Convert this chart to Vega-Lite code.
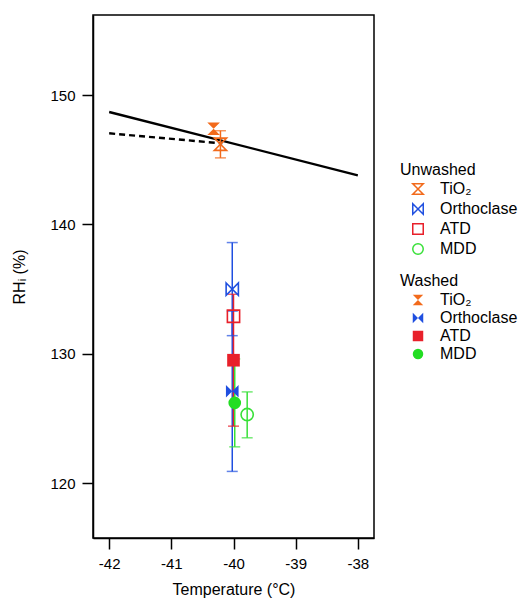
{
  "$schema": "https://vega.github.io/schema/vega-lite/v6.json",
  "width": 281,
  "height": 523,
  "autosize": {"type": "none"},
  "padding": {"left": 93, "top": 15, "right": 144, "bottom": 62},
  "background": "white",
  "config": {
    "font": "Liberation Sans",
    "view": {"stroke": "#000", "strokeWidth": 1.5},
    "axis": {
      "grid": false,
      "domainColor": "#000",
      "domainWidth": 1.5,
      "tickColor": "#000",
      "tickWidth": 1.5,
      "tickSize": 11,
      "labelFont": "Liberation Sans",
      "labelFontSize": 15,
      "labelColor": "#000",
      "labelPadding": 7,
      "titleFont": "Liberation Sans",
      "titleFontSize": 16,
      "titleFontWeight": "normal",
      "titleColor": "#000"
    },
    "legend": {
      "labelFont": "Liberation Sans",
      "labelFontSize": 16,
      "labelColor": "#000",
      "titleFont": "Liberation Sans",
      "titleFontSize": 16,
      "titleFontWeight": "normal",
      "titleColor": "#000",
      "symbolSize": 110,
      "symbolStrokeWidth": 1.5,
      "symbolOffset": 10,
      "labelOffset": 14,
      "rowPadding": 2,
      "titlePadding": 3,
      "padding": 0
    }
  },
  "layer": [
    {
      "data": {"values": [{"t1": -42, "r1": 148.7, "t2": -38, "r2": 143.8}]},
      "mark": {"type": "rule", "color": "#000", "strokeWidth": 2.4},
      "encoding": {
        "x": {"field": "t1", "type": "quantitative", "scale": {"domain": [-42.26, -37.74], "nice": false, "zero": false}, "axis": {"values": [-42, -41, -40, -39, -38], "labelExpr": "datum.value < 0 ? '-' + abs(datum.value) : '' + datum.value", "title": "Temperature (°C)", "titlePadding": 10}},
        "y": {"field": "r1", "type": "quantitative", "scale": {"domain": [115.75, 156.2], "nice": false, "zero": false}, "axis": {"values": [120, 130, 140, 150], "title": "RHᵢ (%)", "titlePadding": 22}},
        "x2": {"field": "t2"},
        "y2": {"field": "r2"}
      }
    },
    {
      "data": {"values": [{"t1": -42, "r1": 147.05, "t2": -40.18, "r2": 146.27}]},
      "mark": {"type": "rule", "color": "#000", "strokeWidth": 2.4, "strokeDash": [6, 4]},
      "encoding": {
        "x": {"field": "t1", "type": "quantitative"},
        "y": {"field": "r1", "type": "quantitative"},
        "x2": {"field": "t2"},
        "y2": {"field": "r2"}
      }
    },
    {
      "data": {"values": [
        {"material": "TiO₂", "temp": -40.21, "lo": 145.15, "hi": 147.25},
        {"material": "Orthoclase", "temp": -40.02, "lo": 131.4, "hi": 138.6},
        {"material": "MDD", "temp": -39.78, "lo": 123.5, "hi": 127.05},
        {"material": "Orthoclase", "temp": -40.02, "lo": 120.9, "hi": 133.3},
        {"material": "ATD", "temp": -40.0, "lo": 124.4, "hi": 134.6},
        {"material": "MDD", "temp": -39.98, "lo": 122.8, "hi": 129.6}
      ]},
      "layer": [
        {
          "mark": {"type": "rule", "strokeWidth": 1.5},
          "encoding": {
            "x": {"field": "temp", "type": "quantitative"},
            "y": {"field": "lo", "type": "quantitative"},
            "y2": {"field": "hi"},
            "color": {"field": "material", "type": "nominal", "legend": null, "scale": {"domain": ["TiO₂", "Orthoclase", "ATD", "MDD"], "range": ["#f26a1b", "#1f4fe0", "#e8202a", "#38e038"]}}
          }
        },
        {
          "mark": {"type": "tick", "orient": "horizontal", "size": 11, "thickness": 1.5},
          "encoding": {
            "x": {"field": "temp", "type": "quantitative"},
            "y": {"field": "lo", "type": "quantitative"},
            "color": {"field": "material", "type": "nominal", "legend": null, "scale": {"domain": ["TiO₂", "Orthoclase", "ATD", "MDD"], "range": ["#f26a1b", "#1f4fe0", "#e8202a", "#38e038"]}}
          }
        },
        {
          "mark": {"type": "tick", "orient": "horizontal", "size": 11, "thickness": 1.5},
          "encoding": {
            "x": {"field": "temp", "type": "quantitative"},
            "y": {"field": "hi", "type": "quantitative"},
            "color": {"field": "material", "type": "nominal", "legend": null, "scale": {"domain": ["TiO₂", "Orthoclase", "ATD", "MDD"], "range": ["#f26a1b", "#1f4fe0", "#e8202a", "#38e038"]}}
          }
        }
      ]
    },
    {
      "data": {"values": [
        {"material": "TiO₂", "temp": -40.21, "rh": 146.2},
        {"material": "Orthoclase", "temp": -40.02, "rh": 135.0},
        {"material": "ATD", "temp": -40.0, "rh": 132.9},
        {"material": "MDD", "temp": -39.78, "rh": 125.3}
      ]},
      "mark": {"type": "point", "filled": false, "strokeWidth": 1.6, "size": 150, "opacity": 1},
      "encoding": {
        "x": {"field": "temp", "type": "quantitative"},
        "y": {"field": "rh", "type": "quantitative"},
        "color": {"field": "material", "type": "nominal", "scale": {"domain": ["TiO₂", "Orthoclase", "ATD", "MDD"], "range": ["#f26a1b", "#1f4fe0", "#e8202a", "#38e038"]}, "legend": {"title": "Unwashed", "orient": "none", "legendX": 307, "legendY": 147}},
        "shape": {"field": "material", "type": "nominal", "scale": {"domain": ["TiO₂", "Orthoclase", "ATD", "MDD"], "range": ["M-1,-1H1L-1,1H1Z", "M-1,-1L1,1V-1L-1,1Z", "square", "circle"]}, "legend": {"title": "Unwashed", "orient": "none", "legendX": 307, "legendY": 147}}
      }
    },
    {
      "data": {"values": [
        {"material": "TiO₂", "temp": -40.32, "rh": 147.4},
        {"material": "Orthoclase", "temp": -40.02, "rh": 127.1},
        {"material": "ATD", "temp": -40.0, "rh": 129.5},
        {"material": "MDD", "temp": -39.98, "rh": 126.2}
      ]},
      "mark": {"type": "point", "filled": true, "size": 160, "opacity": 1},
      "encoding": {
        "x": {"field": "temp", "type": "quantitative"},
        "y": {"field": "rh", "type": "quantitative"},
        "color": {"field": "material", "type": "nominal", "scale": {"domain": ["TiO₂", "Orthoclase", "ATD", "MDD"], "range": ["#f26a1b", "#1f4fe0", "#e8202a", "#22dd22"]}, "legend": {"title": "Washed", "orient": "none", "legendX": 307, "legendY": 258}},
        "shape": {"field": "material", "type": "nominal", "scale": {"domain": ["TiO₂", "Orthoclase", "ATD", "MDD"], "range": ["M-1,-1H1L-1,1H1Z", "M-1,-1L1,1V-1L-1,1Z", "square", "circle"]}, "legend": {"title": "Washed", "orient": "none", "legendX": 307, "legendY": 258}}
      }
    }
  ],
  "resolve": {"scale": {"color": "independent", "shape": "independent"}, "legend": {"color": "independent", "shape": "independent"}}
}
